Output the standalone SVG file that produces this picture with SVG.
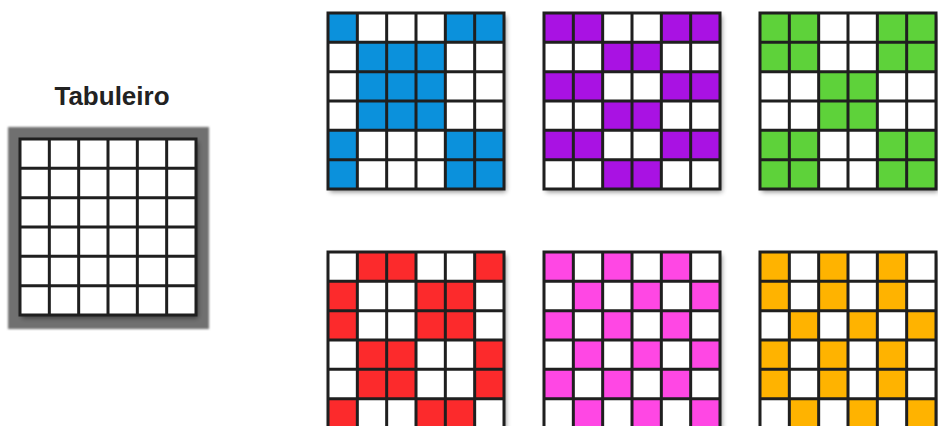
<svg xmlns="http://www.w3.org/2000/svg" xmlns:xlink="http://www.w3.org/1999/xlink" width="938" height="426" viewBox="0 0 938 426">
<style>
.bg{fill:#ffffff;filter:url(#sh)}
.lines{fill:none;stroke:#1f1f1f;stroke-width:3}
.blue{fill:#0b91dc}
.purple{fill:#a912e3}
.green{fill:#5ed23a}
.red{fill:#fc2a2c}
.pink{fill:#ff47e4}
.orange{fill:#ffb300}
.title{font-family:"Liberation Sans",Arial,sans-serif;font-weight:bold;font-size:26px;fill:#222222;text-anchor:middle}
</style>
<defs>
<filter id="sh" x="-10%" y="-10%" width="130%" height="130%">
<feDropShadow dx="2" dy="3" stdDeviation="2.5" flood-color="#000" flood-opacity="0.45"/>
</filter>
<filter id="soft" x="-5%" y="-5%" width="110%" height="110%">
<feGaussianBlur stdDeviation="0.8"/>
</filter>
<rect id="base" class="bg" x="0" y="0" width="176" height="176"/>
<path id="grid" class="lines" d="M0 0H176V176H0Z M29.333 0V176 M58.667 0V176 M88 0V176 M117.333 0V176 M146.667 0V176 M0 29.333H176 M0 58.667H176 M0 88H176 M0 117.333H176 M0 146.667H176"/>
</defs>
<rect fill="#ffffff" x="0" y="0" width="938" height="426"/>

<g id="tabuleiro">
<text class="title" x="112" y="105">Tabuleiro</text>
<rect x="8" y="127" width="201" height="202" fill="#6f6f6f" filter="url(#soft)"/>
<g transform="translate(20,139)">
<use href="#base"/>
<use href="#grid"/>
</g>
</g>

<g id="blue-grid" transform="translate(328,13)">
<use href="#base"/>
<g class="blue">
<rect x="0" y="0" width="29.333" height="29.333"/>
<rect x="117.333" y="0" width="58.667" height="29.333"/>
<rect x="29.333" y="29.333" width="88" height="88"/>
<rect x="0" y="117.333" width="29.333" height="58.667"/>
<rect x="117.333" y="117.333" width="58.667" height="58.667"/>
</g>
<use href="#grid"/>
</g>

<g id="purple-grid" transform="translate(544,13)">
<use href="#base"/>
<g class="purple">
<rect x="0" y="0" width="58.667" height="29.333"/>
<rect x="117.333" y="0" width="58.667" height="29.333"/>
<rect x="58.667" y="29.333" width="58.667" height="29.333"/>
<rect x="0" y="58.667" width="58.667" height="29.333"/>
<rect x="117.333" y="58.667" width="58.667" height="29.333"/>
<rect x="58.667" y="88" width="58.667" height="29.333"/>
<rect x="0" y="117.333" width="58.667" height="29.333"/>
<rect x="117.333" y="117.333" width="58.667" height="29.333"/>
<rect x="58.667" y="146.667" width="58.667" height="29.333"/>
</g>
<use href="#grid"/>
</g>

<g id="green-grid" transform="translate(760,13)">
<use href="#base"/>
<g class="green">
<rect x="0" y="0" width="58.667" height="58.667"/>
<rect x="117.333" y="0" width="58.667" height="58.667"/>
<rect x="58.667" y="58.667" width="58.667" height="58.667"/>
<rect x="0" y="117.333" width="58.667" height="58.667"/>
<rect x="117.333" y="117.333" width="58.667" height="58.667"/>
</g>
<use href="#grid"/>
</g>

<g id="red-grid" transform="translate(328,252)">
<use href="#base"/>
<g class="red">
<rect x="29.333" y="0" width="58.667" height="29.333"/>
<rect x="146.667" y="0" width="29.333" height="29.333"/>
<rect x="0" y="29.333" width="29.333" height="58.667"/>
<rect x="88" y="29.333" width="58.667" height="58.667"/>
<rect x="29.333" y="88" width="58.667" height="58.667"/>
<rect x="146.667" y="88" width="29.333" height="58.667"/>
<rect x="0" y="146.667" width="29.333" height="29.333"/>
<rect x="88" y="146.667" width="58.667" height="29.333"/>
</g>
<use href="#grid"/>
</g>

<g id="pink-grid" transform="translate(544,252)">
<use href="#base"/>
<g class="pink">
<rect x="0" y="0" width="29.333" height="29.333"/>
<rect x="58.667" y="0" width="29.333" height="29.333"/>
<rect x="117.333" y="0" width="29.333" height="29.333"/>
<rect x="29.333" y="29.333" width="29.333" height="29.333"/>
<rect x="88" y="29.333" width="29.333" height="29.333"/>
<rect x="146.667" y="29.333" width="29.333" height="29.333"/>
<rect x="0" y="58.667" width="29.333" height="29.333"/>
<rect x="58.667" y="58.667" width="29.333" height="29.333"/>
<rect x="117.333" y="58.667" width="29.333" height="29.333"/>
<rect x="29.333" y="88" width="29.333" height="29.333"/>
<rect x="88" y="88" width="29.333" height="29.333"/>
<rect x="146.667" y="88" width="29.333" height="29.333"/>
<rect x="0" y="117.333" width="29.333" height="29.333"/>
<rect x="58.667" y="117.333" width="29.333" height="29.333"/>
<rect x="117.333" y="117.333" width="29.333" height="29.333"/>
<rect x="29.333" y="146.667" width="29.333" height="29.333"/>
<rect x="88" y="146.667" width="29.333" height="29.333"/>
<rect x="146.667" y="146.667" width="29.333" height="29.333"/>
</g>
<use href="#grid"/>
</g>

<g id="orange-grid" transform="translate(760,252)">
<use href="#base"/>
<g class="orange">
<rect x="0" y="0" width="29.333" height="58.667"/>
<rect x="58.667" y="0" width="29.333" height="58.667"/>
<rect x="117.333" y="0" width="29.333" height="58.667"/>
<rect x="29.333" y="58.667" width="29.333" height="29.333"/>
<rect x="88" y="58.667" width="29.333" height="29.333"/>
<rect x="146.667" y="58.667" width="29.333" height="29.333"/>
<rect x="0" y="88" width="29.333" height="58.667"/>
<rect x="58.667" y="88" width="29.333" height="58.667"/>
<rect x="117.333" y="88" width="29.333" height="58.667"/>
<rect x="29.333" y="146.667" width="29.333" height="29.333"/>
<rect x="88" y="146.667" width="29.333" height="29.333"/>
<rect x="146.667" y="146.667" width="29.333" height="29.333"/>
</g>
<use href="#grid"/>
</g>

<g id="connectors"/>
</svg>
